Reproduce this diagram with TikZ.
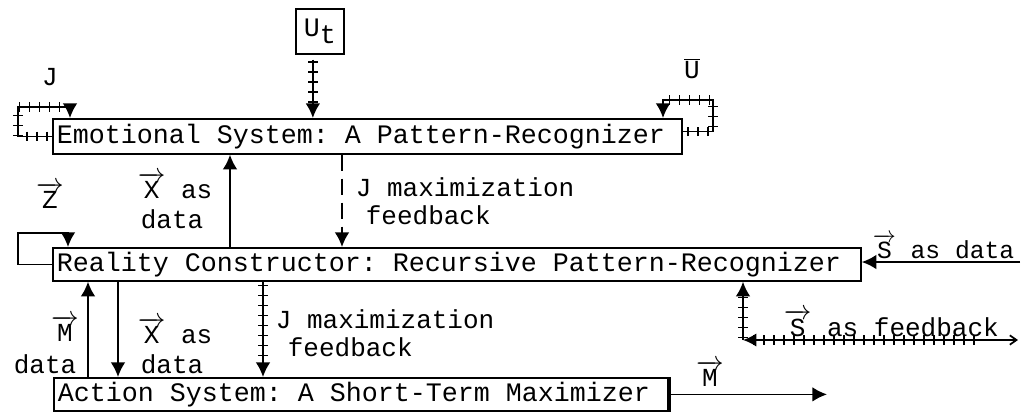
\documentclass[tikz,border=0pt]{standalone}
\usepackage{fontspec}
\setmonofont{Liberation Mono}
\usetikzlibrary{arrows.meta,decorations.markings,calc}
\newcommand\vl[1]{$\overrightarrow{\hbox{#1}}$}
\newcommand\tw[1]{\ttfamily\fontsize{#1}{22pt}\selectfont\spaceskip=0.6em\relax\xspaceskip=0.6em\relax}
\begin{document}
\begin{tikzpicture}[x=0.75pt,y=-0.75pt,
  font=\tw{19.5pt},
  line width=1.3pt,
  box/.style={draw, anchor=north west, inner xsep=3pt, inner ysep=0pt, align=left,
    font=\tw{20pt}},
  arrowed/.style={-{Latex[length=11pt,width=11pt]}},
  hatch/.style={postaction={decorate,decoration={markings,
    mark=between positions 0.04 and 0.85 step 7.5pt with {\draw[-, line width=1pt] (0,-3.5pt)--(0,3.5pt);}}}},
  lbl/.style={anchor=base west, inner sep=0pt}
]
\useasboundingbox (0,0) rectangle (1027,412);

% boxes
\node[draw, anchor=north west, minimum width=36pt, minimum height=33.75pt, inner sep=0pt,
  font=\tw{20pt}] (ut) at (295,8) {U\raisebox{-0.5ex}{t}};
\node[box, text width=465.75pt, minimum height=26.25pt] (emo) at (52,118)
  {\tw{20pt}Emotional System: A Pattern-Recognizer};
\node[box, text width=600pt, minimum height=24.75pt] (real) at (52,247)
  {\tw{20pt}Reality Constructor: Recursive Pattern-Recognizer};
\node[box, text width=454.5pt, minimum height=24.75pt] (act) at (53,377)
  {\tw{20pt}Action System: A Short-Term Maximizer};
\draw[line width=3pt] (act.north east) -- (act.south east);

% helper coordinates
\coordinate (utb) at ($(ut.south)+(-7,5)$);
\coordinate (jl1) at (18,107);
\coordinate (jl2) at (70,107);
\coordinate (uo) at ($(emo.east)+(0,-5)$);
\coordinate (ul1) at (713,100);
\coordinate (ul2) at (663,100);
\coordinate (xu) at (230,0);
\coordinate (jd) at (342,0);
\coordinate (z1) at (18,233);
\coordinate (z2) at (68,233);
\coordinate (sd) at (1020,262);
\coordinate (sc) at (743,340);
\coordinate (sf) at (1018,340);
\coordinate (mu) at (88,0);
\coordinate (xd) at (118,0);
\coordinate (jh) at (263,0);
\coordinate (mo) at (827,0);

% connectors
\draw[hatch, arrowed] (utb) -- (utb |- emo.north);
\draw[hatch, arrowed] (emo.west) -| (jl1) -- (jl2) -- (jl2 |- emo.north);
\draw[hatch, arrowed] (uo) -| (ul1) -- (ul2) -- (ul2 |- emo.north);
\draw[arrowed] (xu |- real.north) -- (xu |- emo.south);
\draw[arrowed, dash pattern=on 12pt off 6pt] (jd |- emo.south) -- (jd |- real.north);
\draw[arrowed] (real.west) -| (z1) -- (z2) -- (z2 |- real.north);
\draw[arrowed] (sd) -- (sd -| real.east);
\draw[hatch, arrowed] (sc) -- (sc |- real.south);
\draw[hatch, {Latex[length=10pt,width=10pt]}-{Straight Barb[length=5pt,width=7pt]}] (sc) -- (sf);
\draw[arrowed] (mu |- act.north) -- (mu |- real.south);
\draw[arrowed] (xd |- real.south) -- (xd |- act.north);
\draw[hatch, arrowed] (jh |- real.south) -- (jh |- act.north);
\draw[arrowed] (act.east) -- (mo |- act.east);

% labels
\node[anchor=base, inner sep=0pt] (lj) at (50,85) {J};
\node[anchor=base, inner sep=0pt] (lu) at (692,78) {$\overline{\hbox{U}}$};
\node[lbl] (lx1) at (137,198) {\vl{X} as};
\node[lbl] (ld1) at (140,228) {data};
\node[anchor=base, inner sep=0pt] (lz) at (50,208) {\vl{Z}};
\node[lbl] (ljm1) at (355,196) {J maximization};
\node[lbl] (lf1) at (365,224) {feedback};
\node[anchor=base, inner sep=0pt] (lm1) at (65,341) {\vl{M}};
\node[lbl] (ld2) at (13,373) {data};
\node[lbl] (lx2) at (137,343) {\vl{X} as};
\node[lbl] (ld3) at (140,373) {data};
\node[lbl] (ljm2) at (275,328) {J maximization};
\node[lbl] (lf2) at (287,356) {feedback};
\node[lbl, font=\tw{18.5pt}] (lsd) at (872,258) {\vl{S} as data};
\node[lbl] (lsf) at (783,336) {\vl{S} as feedback};
\node[anchor=base, inner sep=0pt] (lm2) at (710,386) {\vl{M}};
\end{tikzpicture}
\end{document}
